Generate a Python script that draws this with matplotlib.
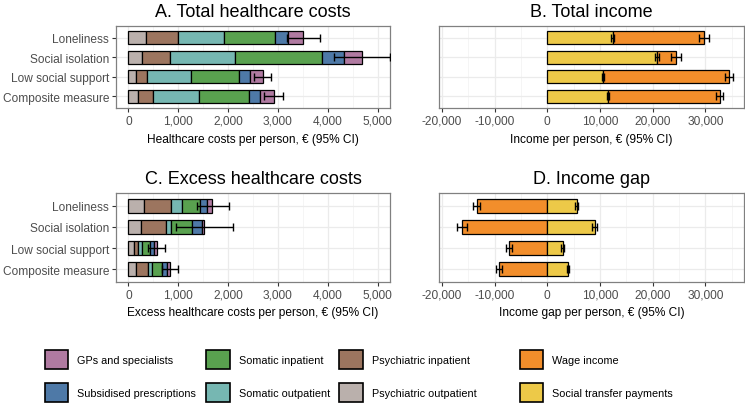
import matplotlib.pyplot as plt
import numpy as np
from matplotlib.patches import Patch
from matplotlib.ticker import FuncFormatter, MultipleLocator

plt.rcParams['font.family'] = ['Liberation Sans', 'DejaVu Sans']

categories = ["Loneliness", "Social isolation", "Low social support", "Composite measure"]

# cost components, in stacking order (left to right)
cost_parts = ["Psychiatric outpatient", "Psychiatric inpatient", "Somatic outpatient",
              "Somatic inpatient", "Subsidised prescriptions", "GPs and specialists"]
cost_colors = ["#BAB0AC", "#9C755F", "#76B7B2", "#59A14F", "#4E79A7", "#B07AA1"]

# A. total healthcare costs per person (rows = categories, cols = cost_parts)
total_costs = np.array([
    [360, 640, 920, 1030, 250, 310],
    [270, 570, 1300, 1750, 430, 370],
    [160, 210, 880, 970, 215, 270],
    [200, 290, 935, 1000, 225, 280],
])
total_ci_low = [3190, 4120, 2520, 2730]
total_ci_high = [3840, 5240, 2855, 3095]

# C. excess healthcare costs per person
excess_costs = np.array([
    [305, 545, 220, 370, 145, 95],
    [255, 505, 95, 420, 195, 50],
    [105, 80, 95, 160, 80, 50],
    [160, 225, 80, 215, 95, 65],
])
excess_ci_low = [1375, 945, 395, 680]
excess_ci_high = [2015, 2105, 730, 990]

# B. total income per person
transfer_income = [12430, 20800, 10530, 11540]
transfer_income_err = [320, 390, 220, 220]
wage_income = [17370, 3670, 23950, 21160]
total_income_err = [950, 890, 760, 700]

# D. income gap per person
wage_gap = [-13420, -16220, -7220, -9120]
wage_gap_err = [700, 950, 570, 570]
transfer_gap = [5600, 9000, 2900, 3940]
transfer_gap_err = [260, 450, 220, 200]

WAGE_COLOR = "#F28E2B"
TRANSFER_COLOR = "#EDC948"

y = np.arange(len(categories))
BAR_H = 0.66
comma = FuncFormatter(lambda v, p: f"{v:,.0f}")

fig = plt.figure(figsize=(7.45, 4.10), dpi=100)
W, H = 745, 410


def px_axes(left, top, right, bottom):
    return fig.add_axes([left / W, 1 - bottom / H, (right - left) / W, (bottom - top) / H])


ax_a = px_axes(116, 27, 390, 109)
ax_b = px_axes(439, 27, 744, 109)
ax_c = px_axes(116, 194, 390, 283)
ax_d = px_axes(439, 194, 744, 283)


def style(ax, title, xlabel, show_y):
    ax.set_title(title, fontsize=13, pad=7)
    ax.set_xlabel(xlabel, fontsize=8.6, labelpad=4)
    ax.set_ylim(len(categories) - 0.4, -0.6)
    ax.set_yticks(y)
    ax.xaxis.set_major_formatter(comma)
    ax.grid(True, which="major", color="#EBEBEB", linewidth=0.9, zorder=0)
    ax.grid(True, which="minor", axis="x", color="#F2F2F2", linewidth=0.5, zorder=0)
    ax.set_axisbelow(True)
    ax.tick_params(axis="both", which="major", labelsize=8.6, labelcolor="#4D4D4D",
                   color="#333333", length=3, width=0.8, pad=2)
    ax.tick_params(axis="x", which="minor", length=0)
    if show_y:
        ax.set_yticklabels(categories)
    else:
        ax.set_yticklabels([])
        ax.tick_params(axis="y", length=0)
    for s in ax.spines.values():
        s.set_color("#808080")
        s.set_linewidth(0.9)


def cost_panel(ax, parts, lo, hi):
    left = np.zeros(len(categories))
    for j in range(len(cost_parts)):
        ax.barh(y, parts[:, j], left=left, height=BAR_H, color=cost_colors[j],
                edgecolor="black", linewidth=0.9, zorder=3)
        left = left + parts[:, j]
    ax.errorbar(left, y, xerr=[left - np.array(lo), np.array(hi) - left], fmt="none",
                ecolor="black", elinewidth=1.0, capsize=3.2, capthick=1.0, zorder=4)
    ax.set_xlim(-250, 5250)
    ax.xaxis.set_major_locator(MultipleLocator(1000))
    ax.xaxis.set_minor_locator(MultipleLocator(500))


def err(ax, x, e):
    ax.errorbar(x, y, xerr=e, fmt="none", ecolor="black", elinewidth=1.0,
                capsize=3.2, capthick=1.0, zorder=4)


cost_panel(ax_a, total_costs, total_ci_low, total_ci_high)
style(ax_a, "A. Total healthcare costs", "Healthcare costs per person, \u20ac (95% CI)", True)

cost_panel(ax_c, excess_costs, excess_ci_low, excess_ci_high)
style(ax_c, "C. Excess healthcare costs", "Excess healthcare costs per person, \u20ac (95% CI)", True)

# B
ax_b.barh(y, transfer_income, height=BAR_H, color=TRANSFER_COLOR, edgecolor="black",
          linewidth=0.9, zorder=3)
ax_b.barh(y, wage_income, left=transfer_income, height=BAR_H, color=WAGE_COLOR,
          edgecolor="black", linewidth=0.9, zorder=3)
err(ax_b, transfer_income, transfer_income_err)
err(ax_b, np.array(transfer_income) + np.array(wage_income), total_income_err)

# D
ax_d.barh(y, wage_gap, height=BAR_H, color=WAGE_COLOR, edgecolor="black",
          linewidth=0.9, zorder=3)
ax_d.barh(y, transfer_gap, height=BAR_H, color=TRANSFER_COLOR, edgecolor="black",
          linewidth=0.9, zorder=3)
err(ax_d, wage_gap, wage_gap_err)
err(ax_d, transfer_gap, transfer_gap_err)

for ax in (ax_b, ax_d):
    ax.set_xlim(-20550, 37350)
    ax.set_xticks([-20000, -10000, 0, 10000, 20000, 30000])
    ax.xaxis.set_minor_locator(MultipleLocator(5000))

style(ax_b, "B. Total income", "Income per person, \u20ac (95% CI)", False)
style(ax_d, "D. Income gap", "Income gap per person, \u20ac (95% CI)", False)

# legends
legend_order = [5, 4, 3, 2, 1, 0]
cost_handles = [Patch(facecolor=cost_colors[i], edgecolor="black", linewidth=1.2,
                      label=cost_parts[i]) for i in legend_order]
income_handles = [Patch(facecolor=WAGE_COLOR, edgecolor="black", linewidth=1.2, label="Wage income"),
                  Patch(facecolor=TRANSFER_COLOR, edgecolor="black", linewidth=1.2,
                        label="Social transfer payments")]
leg_kw = dict(frameon=False, fontsize=7.8, handlelength=2.2, handleheight=2.3,
              handletextpad=0.83, labelspacing=1.35, columnspacing=0.88,
              borderpad=0, borderaxespad=0, loc="upper left")
fig.legend(handles=cost_handles, ncol=3, bbox_to_anchor=(44.5 / W, 1 - 351 / H), **leg_kw)
fig.legend(handles=income_handles, ncol=1, bbox_to_anchor=(519.5 / W, 1 - 351 / H), **leg_kw)

fig.savefig("out.png", dpi=100)
